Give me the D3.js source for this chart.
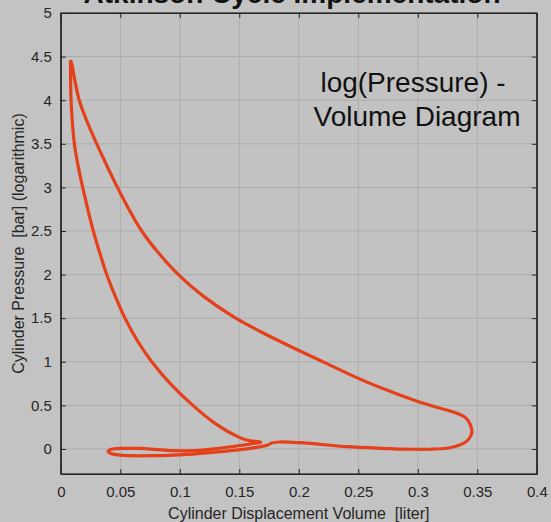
<!DOCTYPE html>
<html><head><meta charset="utf-8">
<script src="https://cdn.jsdelivr.net/npm/d3@7"></script>
<style>html,body{margin:0;padding:0;background:#c3c3c3;overflow:hidden}</style>
</head><body><svg id="c" width="551" height="522"></svg>
<script>
const xTicks = [0, 0.05, 0.1, 0.15, 0.2, 0.25, 0.3, 0.35, 0.4];
const xTickLabels = ["0", "0.05", "0.1", "0.15", "0.2", "0.25", "0.3", "0.35", "0.4"];
const yTicks = [0, 0.5, 1, 1.5, 2, 2.5, 3, 3.5, 4, 4.5, 5];
const yTickLabels = ["0", "0.5", "1", "1.5", "2", "2.5", "3", "3.5", "4", "4.5", "5"];
// Cycle traced in order: expansion, blow-down, pumping loop, compression
const volume = [0.0082,0.0095,0.0115,0.0155,0.0222,0.0302,0.0387,0.0476,0.0572,0.068,0.082,0.0988,0.12,0.147,0.173,0.2,0.225,0.25,0.275,0.3,0.318,0.3327,0.3405,0.3443,0.3453,0.3422,0.3382,0.3313,0.3243,0.3103,0.2962,0.2682,0.2403,0.2178,0.201,0.1842,0.1772,
  0.174,0.163,0.1506,0.131,0.111,0.0945,0.075,0.058,0.048,0.042,0.0398,0.041,0.046,0.054,
  0.0666,0.079,0.094,0.111,0.131,0.1506,0.163,0.168,
  0.158,0.1506,0.129,0.111,0.092,0.0764,0.064,0.054,0.0458,0.0386,0.0327,0.0273,0.0227,0.0184,0.0145,0.0114,0.0097,0.0086,0.0082,0.0082];
const logPressure = [4.46,4.40,4.25,4.0,3.75,3.5,3.25,3.0,2.75,2.5,2.25,2.0,1.75,1.5,1.31,1.13,0.97,0.81,0.67,0.545,0.47,0.41,0.354,0.274,0.18,0.103,0.065,0.029,0.008,-0.003,-0.003,0.008,0.026,0.054,0.072,0.08,0.068,
  0.046,0.015,-0.008,-0.035,-0.058,-0.07,-0.077,-0.077,-0.068,-0.052,-0.032,-0.01,0.003,0.006,
  0.006,-0.004,-0.018,-0.02,0.005,0.04,0.066,0.078,
  0.097,0.13,0.3,0.5,0.75,1.0,1.25,1.5,1.75,2.0,2.25,2.5,2.75,3.0,3.25,3.5,3.75,4.0,4.3,4.46];

const svg = d3.select("#c");
const W = 551, H = 522;
const m = {l: 60.8, r: 536.8, t: 13, b: 474};
const x = d3.scaleLinear().domain([0, 0.4]).range([m.l, m.r]);
const y = d3.scaleLinear().domain([-0.287, 5]).range([m.b, m.t]);
const font = "'Liberation Sans', Arial, Helvetica, sans-serif";
const axisCol = "#262626";

svg.append("rect").attr("width", W).attr("height", H).attr("fill", "#c3c3c3");
svg.append("rect").attr("x", m.l).attr("y", m.t).attr("width", m.r - m.l).attr("height", m.b - m.t).attr("fill", "#c2c2c2");

// grid
const g = svg.append("g");
g.selectAll(".gx").data(xTicks.slice(1, -1)).join("line")
  .attr("x1", d => x(d)).attr("x2", d => x(d)).attr("y1", m.t).attr("y2", m.b)
  .attr("stroke", "#adadad").attr("stroke-width", 1);
g.selectAll(".gy").data(yTicks.slice(0, -1)).join("line")
  .attr("x1", m.l).attr("x2", m.r).attr("y1", d => y(d)).attr("y2", d => y(d))
  .attr("stroke", "#adadad").attr("stroke-width", 1);

// curve
const pts = volume.map((v, i) => [v, logPressure[i]]);
svg.append("path").datum(pts)
  .attr("d", d3.line().x(d => x(d[0])).y(d => y(d[1])).curve(d3.curveCatmullRom.alpha(0.5)))
  .attr("fill", "none").attr("stroke", "#e5401a").attr("stroke-width", 3.2).attr("stroke-linejoin", "round");

// axes (box with inward ticks)
const tickLen = 5;
const mk = (axis, tr) => {
  const a = svg.append("g").attr("transform", tr).call(axis);
  a.select(".domain").attr("stroke", axisCol).attr("stroke-width", 1.2);
  a.selectAll(".tick line").attr("stroke", axisCol);
  a.selectAll("text").attr("fill", axisCol).style("font-family", font).style("font-size", "15px");
  return a;
};
mk(d3.axisBottom(x).tickValues(xTicks).tickFormat((d, i) => xTickLabels[i]).tickSizeInner(-tickLen).tickSizeOuter(0).tickPadding(12), `translate(0,${m.b})`);
mk(d3.axisTop(x).tickValues(xTicks).tickFormat("").tickSizeInner(-tickLen).tickSizeOuter(0), `translate(0,${m.t})`);
mk(d3.axisLeft(y).tickValues(yTicks).tickFormat((d, i) => yTickLabels[i]).tickSizeInner(-tickLen).tickSizeOuter(0).tickPadding(9), `translate(${m.l},0)`);
mk(d3.axisRight(y).tickValues(yTicks).tickFormat("").tickSizeInner(-tickLen).tickSizeOuter(0), `translate(${m.r},0)`);
svg.append("rect").attr("x", m.l).attr("y", m.t).attr("width", m.r - m.l).attr("height", m.b - m.t)
  .attr("fill", "none").attr("stroke", axisCol).attr("stroke-width", 1.2);

// labels
svg.append("text").attr("x", (m.l + m.r) / 2).attr("y", 519).attr("text-anchor", "middle")
  .style("font-family", font).style("font-size", "16px").attr("fill", axisCol)
  .attr("xml:space", "preserve").text("Cylinder Displacement Volume  [liter]");
svg.append("text").attr("transform", `translate(24,${(m.t + m.b) / 2}) rotate(-90)`).attr("text-anchor", "middle")
  .style("font-family", font).style("font-size", "16px").attr("fill", axisCol)
  .attr("xml:space", "preserve").text("Cylinder Pressure  [bar] (logarithmic)");
svg.append("text").attr("x", 292).attr("y", 3).attr("text-anchor", "middle")
  .style("font-family", font).style("font-size", "28px").style("font-weight", "bold").attr("fill", "#111")
  .text("Atkinson Cycle Implementation");
svg.append("text").attr("x", 413).attr("y", 92).attr("text-anchor", "middle")
  .style("font-family", font).style("font-size", "28px").attr("fill", "#111").text("log(Pressure) -");
svg.append("text").attr("x", 417).attr("y", 126).attr("text-anchor", "middle")
  .style("font-family", font).style("font-size", "28px").attr("fill", "#111").text("Volume Diagram");
</script></body></html>
